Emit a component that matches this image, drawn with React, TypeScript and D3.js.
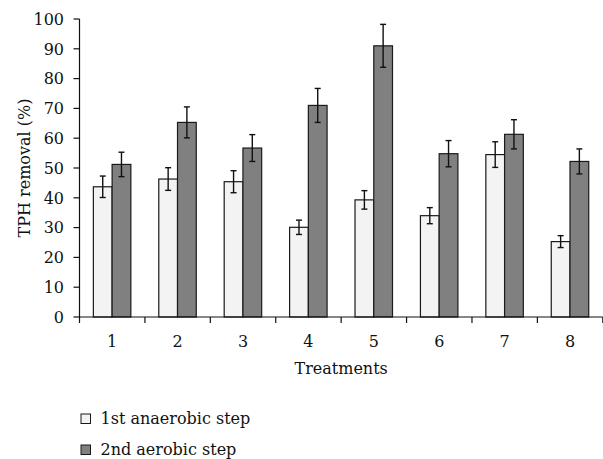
import React from "react";
import * as d3 from "d3";

const categories = ["1", "2", "3", "4", "5", "6", "7", "8"];
const seriesNames = ["1st anaerobic step", "2nd aerobic step"];
const anaerobic = [43.7, 46.3, 45.4, 30.1, 39.3, 34.0, 54.5, 25.3];
const anaerobicErr = [3.6, 3.8, 3.7, 2.4, 3.1, 2.7, 4.3, 2.0];
const aerobic = [51.2, 65.3, 56.7, 71.0, 91.0, 54.8, 61.3, 52.2];
const aerobicErr = [4.1, 5.2, 4.5, 5.7, 7.2, 4.4, 4.9, 4.2];
const yTicks = [0, 10, 20, 30, 40, 50, 60, 70, 80, 90, 100];

const W = 603;
const H = 459;
const FONT = "'DejaVu Serif', serif";
const colors = ["#f2f3f2", "#808080"];

export default function App() {
  const left = 79.5;
  const right = 602.8;
  const top = 19;
  const bottom = 317;
  const x = d3.scaleBand<string>().domain(categories).range([left, right]).paddingInner(0).paddingOuter(0);
  const bw = x.bandwidth();
  const sub = d3.scaleBand<number>().domain([0, 1]).range([bw * 0.212, bw * 0.785]).padding(0);
  const y = d3.scaleLinear().domain([0, 100]).range([bottom, top]);
  const series = [
    { vals: anaerobic, errs: anaerobicErr },
    { vals: aerobic, errs: aerobicErr },
  ];
  const boundaries = categories.map((c) => x(c) as number).concat([right]);

  return (
    <svg width={W} height={H} style={{ position: "absolute", left: 0, top: 0, background: "#fff" }} fontFamily={FONT}>
      <rect width={W} height={H} fill="#fff" />
      {series.map((s, si) =>
        categories.map((c, i) => {
          const bx = (x(c) as number) + (sub(si) as number);
          const w = sub.bandwidth();
          const yv = y(s.vals[i]);
          return (
            <rect key={`b${si}-${i}`} x={bx} y={yv} width={w} height={bottom - yv} fill={colors[si]} stroke="#1a1a1a" strokeWidth={1.2} />
          );
        })
      )}
      {series.map((s, si) =>
        categories.map((c, i) => {
          const cx = (x(c) as number) + (sub(si) as number) + sub.bandwidth() / 2;
          const y1 = y(s.vals[i] + s.errs[i]);
          const y2 = y(s.vals[i] - s.errs[i]);
          return (
            <g key={`e${si}-${i}`} stroke="#111" strokeWidth={1.4}>
              <line x1={cx} x2={cx} y1={y1} y2={y2} />
              <line x1={cx - 3} x2={cx + 3} y1={y1} y2={y1} />
              <line x1={cx - 3} x2={cx + 3} y1={y2} y2={y2} />
            </g>
          );
        })
      )}
      {/* y axis */}
      <line x1={left} x2={left} y1={top} y2={bottom} stroke="#111" strokeWidth={1.2} />
      {yTicks.map((t) => (
        <g key={`yt${t}`}>
          <line x1={left - 6} x2={left} y1={y(t)} y2={y(t)} stroke="#111" strokeWidth={1.2} />
          <text x={64} y={y(t)} dy="0.36em" textAnchor="end" fontSize={16} fill="#111">
            {t}
          </text>
        </g>
      ))}
      {/* x axis */}
      <line x1={left} x2={right} y1={bottom} y2={bottom} stroke="#111" strokeWidth={1.2} />
      {boundaries.map((bx, i) => (
        <line key={`xt${i}`} x1={bx} x2={bx} y1={bottom} y2={bottom + 6} stroke="#111" strokeWidth={1.2} />
      ))}
      {categories.map((c) => (
        <text key={`xl${c}`} x={(x(c) as number) + bw / 2} y={347} textAnchor="middle" fontSize={16} fill="#111">
          {c}
        </text>
      ))}
      <text x={(left + right) / 2} y={374} textAnchor="middle" fontSize={16} fill="#111">
        Treatments
      </text>
      <text transform={`translate(30,${(top + bottom) / 2 + 0}) rotate(-90)`} textAnchor="middle" fontSize={16} fill="#111">
        TPH removal (%)
      </text>
      {/* legend */}
      {seriesNames.map((n, i) => (
        <g key={`lg${i}`} transform={`translate(81,${414 + i * 31})`}>
          <rect x={0} y={0} width={9.5} height={9.5} fill={colors[i]} stroke="#1a1a1a" strokeWidth={1} />
          <text x={19.5} y={9.5} fontSize={16} fill="#111">
            {n}
          </text>
        </g>
      ))}
    </svg>
  );
}
